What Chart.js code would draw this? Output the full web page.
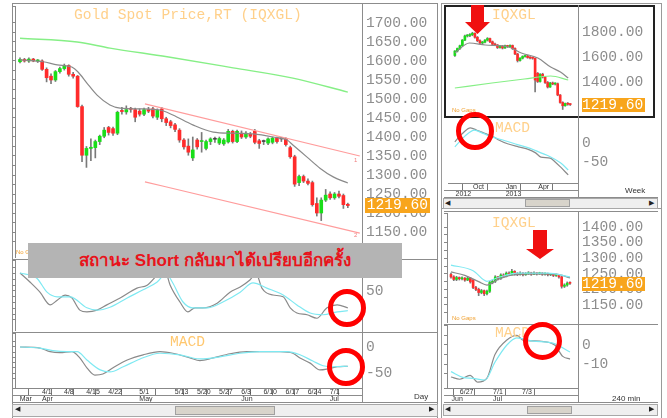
<!DOCTYPE html>
<html>
<head>
<meta charset="utf-8">
<script src="https://cdn.jsdelivr.net/npm/chart.js@4.4.0/dist/chart.umd.min.js"></script>
<style>
body { margin:0; width:667px; height:418px; background:#fff; position:relative; overflow:hidden; font-family:'Liberation Mono', monospace; }
canvas, .a { position:absolute; }
.ln { position:absolute; background:#8c8c8c; }
.ttl { position:absolute; color:#ffd08a; font-size:14.6px; line-height:17px; white-space:nowrap; }
.box { position:absolute; background:#f8a51c; color:#fff; font-size:14.6px; line-height:14px; text-align:right; padding-right:2px; box-sizing:border-box; }
.tiny { position:absolute; font-family:'Liberation Sans', sans-serif; font-size:7px; color:#333; white-space:nowrap; }
.ring { position:absolute; border:5px solid #f00; border-radius:50%; box-sizing:border-box; }
.sb { position:absolute; background:#efefef; border:1px solid #a8a8a8; box-sizing:border-box; }
.th { position:absolute; background:#d8d4cb; border:1px solid #a0a0a0; box-sizing:border-box; }
.ar { position:absolute; font-family:'DejaVu Sans'; font-size:7px; color:#222; }
</style>
</head>
<body>

<!-- window frames -->
<div class="a" style="left:12px;top:3px;width:426px;height:415px;border:1px solid #8c8c8c;border-bottom:none;box-sizing:border-box"></div>
<div class="a" style="left:441px;top:3px;width:221px;height:206px;border:1px solid #9a9a9a;box-sizing:border-box"></div>
<div class="a" style="left:441px;top:208px;width:221px;height:210px;border:1px solid #9a9a9a;border-bottom:none;box-sizing:border-box"></div>

<canvas id="dayPrice" width="425" height="252" style="left:12px;top:6px"></canvas>
<canvas id="dayStoch" width="425" height="71" style="left:12px;top:260px"></canvas>
<canvas id="dayMacd" width="425" height="71" style="left:12px;top:333px"></canvas>

<canvas id="wkPrice" width="210" height="111" style="left:445px;top:6px"></canvas>
<canvas id="wkMacd" width="210" height="81" style="left:445px;top:118px"></canvas>

<canvas id="hPrice" width="211" height="110" style="left:444px;top:213px"></canvas>
<canvas id="hMacd" width="211" height="79" style="left:444px;top:325px"></canvas>

<!-- separators -->
<div class="ln" style="left:12px;top:259px;width:425px;height:1px"></div>
<div class="ln" style="left:12px;top:332px;width:425px;height:1px"></div>
<div class="ln" style="left:12px;top:395px;width:350px;height:1px"></div>
<div class="ln" style="left:12px;top:402px;width:425px;height:1px"></div>
<div class="ln" style="left:362px;top:4px;width:1px;height:399px"></div>
<div class="a" style="left:444px;top:5px;width:211px;height:113px;border:2px solid #222;box-sizing:border-box"></div>
<div class="ln" style="left:578px;top:5px;width:1px;height:192px"></div>
<div class="ln" style="left:444px;top:190px;width:134px;height:1px"></div>
<div class="ln" style="left:444px;top:197px;width:214px;height:1px"></div>
<div class="ln" style="left:444px;top:211px;width:214px;height:1px"></div>
<div class="ln" style="left:444px;top:324px;width:214px;height:1px"></div>
<div class="ln" style="left:578px;top:211px;width:1px;height:192px"></div>
<div class="ln" style="left:444px;top:395px;width:134px;height:1px"></div>
<div class="ln" style="left:444px;top:402px;width:214px;height:1px"></div>

<!-- titles and labels -->
<div class="ttl" style="left:74px;top:7px">Gold Spot Price,RT (IQXGL)</div>
<div class="ttl" style="left:170px;top:334px;color:#ffc76e">MACD</div>
<div class="ttl" style="left:492px;top:7px">IQXGL</div>
<div class="ttl" style="left:495px;top:120px">MACD</div>
<div class="ttl" style="left:492px;top:215px">IQXGL</div>
<div class="ttl" style="left:495px;top:325px">MACD</div>
<div class="box" style="left:365px;top:198px;width:65px;height:15px">1219.60</div>
<div class="box" style="left:582px;top:98px;width:63px;height:14px">1219.60</div>
<div class="box" style="left:582px;top:277px;width:63px;height:14px">1219.60</div>
<div class="tiny" style="left:16px;top:249px;color:#f0a030;font-size:6px">No Gaps</div>
<div class="tiny" style="left:452px;top:107px;color:#f0a030;font-size:6px">No Gaps</div>
<div class="tiny" style="left:452px;top:315px;color:#f0a030;font-size:6px">No Gaps</div>
<div class="tiny" style="left:354px;top:157px;color:#f08080;font-size:6px">1</div>
<div class="tiny" style="left:354px;top:232px;color:#f08080;font-size:6px">2</div>
<div class="tiny" style="left:414px;top:392px;font-size:8px">Day</div>
<div class="tiny" style="left:625px;top:186px;font-size:8px">Week</div>
<div class="tiny" style="left:612px;top:394px;font-size:8px">240 min</div>

<!-- scrollbars -->
<div class="sb" style="left:12px;top:404px;width:426px;height:13px"></div>
<div class="th" style="left:175px;top:406px;width:100px;height:9px"></div>
<div class="ar" style="left:15px;top:405px">◀</div><div class="ar" style="left:429px;top:405px">▶</div>
<div class="sb" style="left:443px;top:198px;width:215px;height:11px"></div>
<div class="th" style="left:525px;top:199px;width:45px;height:8px"></div>
<div class="ar" style="left:445px;top:199px">◀</div><div class="ar" style="left:649px;top:199px">▶</div>
<div class="sb" style="left:443px;top:404px;width:215px;height:12px"></div>
<div class="th" style="left:527px;top:406px;width:45px;height:8px"></div>
<div class="ar" style="left:445px;top:405px">◀</div><div class="ar" style="left:649px;top:405px">▶</div>

<!-- annotations -->
<div class="a" style="left:28px;top:243px;width:374px;height:35px;background:#b4b4b4;color:#e8141c;font:bold 17px 'Liberation Sans', sans-serif;text-align:center;line-height:35px">สถานะ Short กลับมาได้เปรียบอีกครั้ง</div>
<div class="ring" style="left:328px;top:289px;width:38px;height:38px"></div>
<div class="ring" style="left:327px;top:348px;width:38px;height:38px"></div>
<div class="ring" style="left:456px;top:112px;width:38px;height:38px"></div>
<div class="ring" style="left:523px;top:322px;width:39px;height:38px"></div>
<svg class="a" style="left:0;top:0" width="667" height="418">
  <polygon points="471,5 484,5 484,22 490,22 477.5,34 465,22 471,22" fill="#f01010"/>
  <polygon points="533,230 547,230 547,249 554,249 540,259 526,249 533,249" fill="#f01010"/>
</svg>

<script>
// ---- daily, 25 Mar - 5 Jul 2013 ----
var dayOpen  = [1598,1604,1600,1605,1600,1600,1578,1560,1550,1572,1580,1588,1565,1560,1480,1352,1370,1372,1388,1402,
                1425,1422,1410,1470,1466,1474,1472,1468,1460,1472,1474,1452,1474,1448,1440,1432,1418,1392,1376,1345,
                1392,1388,1370,1388,1394,1384,1382,1387,1415,1388,1410,1400,1407,1415,1390,1388,1384,1386,1398,1395,
                1395,1372,1348,1280,1296,1284,1280,1225,1200,1234,1250,1240,1250,1246,1223]
var dayHigh  = [1608,1607,1608,1607,1604,1603,1582,1566,1575,1584,1592,1590,1570,1562,1484,1375,1395,1392,1405,1425,
                1428,1426,1468,1478,1482,1478,1476,1474,1476,1478,1478,1474,1478,1452,1444,1436,1422,1396,1395,1400,
                1396,1412,1392,1398,1400,1400,1396,1420,1418,1418,1416,1414,1412,1420,1394,1392,1398,1400,1400,1398,
                1398,1376,1352,1300,1300,1290,1284,1240,1240,1262,1256,1254,1258,1250,1226]
var dayLow   = [1595,1597,1596,1598,1596,1575,1545,1540,1546,1568,1576,1560,1555,1478,1335,1320,1338,1345,1380,1398,
                1405,1404,1406,1460,1460,1465,1440,1455,1456,1464,1450,1446,1440,1430,1424,1414,1386,1368,1352,1338,
                1368,1360,1366,1380,1386,1380,1378,1384,1384,1385,1396,1396,1398,1382,1370,1380,1380,1382,1384,1388,
                1376,1344,1270,1272,1280,1274,1218,1192,1180,1230,1236,1236,1240,1212,1214]
var dayClose = [1604,1600,1605,1600,1601,1578,1556,1550,1572,1580,1588,1565,1560,1480,1352,1370,1373,1388,1402,1418,
                1412,1410,1465,1467,1472,1473,1452,1460,1472,1468,1455,1470,1448,1438,1430,1420,1392,1374,1360,1366,
                1374,1390,1388,1395,1394,1396,1392,1415,1388,1415,1400,1410,1402,1386,1383,1388,1395,1397,1388,1395,
                1380,1348,1276,1296,1284,1278,1222,1200,1234,1247,1240,1250,1244,1222,1219.6]

var dayMaX    = [0,5.2,8.4,11.7,13.1,15.1,17.4,20.3,22.6,27.1,31.6,34.5,39,43.6,48.1,52.6,57.1,60.3,61.6,64.8,67.7,70.7,74]
var dayMa     = [1603,1598,1590,1584,1571,1542,1510,1484,1476,1474,1471,1458,1432,1413,1410,1408,1400,1392,1379,1347,1318,1295,1279]
var dayLongMaX = [0,12.9,20.3,33.2,48.1,61.6,74]
var dayLongMa  = [1660,1650,1634,1611,1582,1555,1518]
var chanX     = [28.2,76.7]
var chanUpper = [1487,1350]
var chanLower = [1282,1147]

var stochKX = [0,2.3,4.5,6.8,8.4,10.2,11.7,13.5,15.1,17.4,19.6,22.6,26.4,28.7,31,32.5,33.9,36.1,37.9,39.5,41.3,44.5,47.4,49.7,51.9,53.3,54.6,57.1,59.4,61,62.5,64.8,67,69.3,71.6,74]
var stochK  = [81,65,48,26,34,43,38,17,14,17,26,38,55,60,78,90,60,31,14,21,21,29,48,57,69,80,55,43,40,21,12,9,3,21,26,21]
var stochDX = [0,3.8,6.1,8.4,11.3,15.1,17.4,20.3,24.2,27.8,30.9,33,34.4,36.8,39,42.4,45.8,49.7,52.6,55.7,59.4,62.5,65.5,68.4,71.6,74]
var stochD  = [81,72,48,40,40,21,17,22,38,52,65,80,65,31,21,21,31,48,64,55,43,26,12,9,14,16]

var macdX   = [0,4.5,6.8,9,11.7,13.5,15.1,16.9,18.7,21,24.2,27.8,31.6,34.5,38.4,40.6,43.6,47.4,51.2,54.2,58.7,61.6,63.2,65.5,67.7,69.5,71.6,74]
var macd    = [0,-2,-9,-11,-9,-21,-40,-54,-52,-40,-25,-15,-9,-12,-21,-26,-21,-13,-9,-9,-9,-12,-21,-31,-44,-42,-38,-37]
var signalX = [0,4.5,7.4,10.6,12.9,15.1,18.1,20.3,23.3,27.1,31.6,36.1,40.6,45.1,49.7,54.2,60.3,63.2,66.1,68.4,70.7,74]
var signal  = [0,-2,-7,-9,-9,-25,-44,-48,-38,-23,-12,-15,-23,-19,-12,-9,-9,-15,-27,-36,-38,-37]

var dayTickPos    = [-0.5,4.5,9.5,14.5,19.5,26.5,34.5,39.5,44.5,49.5,54.5,59.5,64.5,69.5]
var dayTickTop    = ['','4/1','4/8','4/15','4/22','5/1','5/13','5/20','5/27','6/3','6/10','6/17','6/24','7/1']
var dayTickBottom = ['Mar','Apr','','','','May','','','','Jun','','','','Jul']
var dayPriceTicks = [1150,1200,1250,1300,1350,1400,1450,1500,1550,1600,1650,1700]

// ---- weekly, Aug 2012 - Jul 2013 ----
var wkOpen  = [1612,1648,1668,1690,1735,1768,1772,1778,1790,1758,1730,1712,1718,1735,1748,1722,1702,1696,1676,1686,
               1672,1690,1684,1692,1668,1624,1572,1590,1604,1608,1596,1592,1590,1470,1404,1462,1440,1396,1360,1392,
               1384,1386,1296,1236,1210,1228,1222]
var wkHigh  = [1652,1672,1695,1740,1775,1780,1788,1798,1794,1764,1738,1726,1740,1755,1752,1728,1712,1700,1692,1692,
               1696,1694,1698,1696,1674,1630,1596,1610,1616,1614,1604,1600,1594,1476,1468,1470,1446,1404,1398,1400,
               1394,1392,1300,1242,1232,1236,1226]
var wkLow   = [1605,1640,1660,1685,1730,1760,1762,1770,1750,1722,1705,1700,1712,1728,1715,1695,1690,1668,1670,1664,
               1668,1676,1678,1660,1618,1560,1566,1584,1598,1590,1584,1582,1320,1396,1398,1432,1388,1352,1356,1378,
               1376,1290,1230,1180,1206,1214,1212]
var wkClose = [1648,1668,1690,1735,1768,1772,1778,1790,1758,1730,1712,1718,1735,1748,1722,1702,1696,1676,1686,1672,
               1690,1684,1692,1668,1624,1572,1590,1604,1608,1596,1592,1590,1416,1404,1462,1440,1396,1360,1392,1384,
               1386,1296,1236,1210,1228,1222,1219.6]
var wkMaX     = [0,5.8,12.1,21.4,26.5,33.1,38.2,42.1,45.2]
var wkMa      = [1632,1712,1696,1680,1632,1592,1520,1480,1432]
var wkLongMaX = [0,14.8,27.7,38.2,45.2]
var wkLongMa  = [1352,1392,1424,1448,1416]
var wkMacdX   = [0,3,6.2,9,11,13.6,15.5,17.5,21,25.3,29,32.2,34.3,38,40,42.1,45.2]
var wkMacd    = [3,25,40,33,28,21,16,8,-2,-10,-16,-26,-37,-40,-50,-63,-84]
var wkSignalX = [0,4,7.8,11,14.8,20,25.3,30,34.3,38,42.1,45.2]
var wkSignal  = [-10,18,34,26,16,6,-5,-14,-26,-36,-52,-71]
var wkTickPos    = [-0.5,6.5,19.5,32.5]
var wkTickTop    = ['','Oct','Jan','Apr']
var wkTickBottom = ['2012','','2013','']
var wkPriceTicks = [1200,1400,1600,1800]

// ---- 240 min, 24 Jun - 5 Jul 2013 ----
var hOpen  = [1248,1240,1232,1238,1234,1236,1230,1236,1230,1206,1200,1190,1196,1186,1194,1222,1226,1240,1236,1246,
              1242,1252,1248,1258,1250,1248,1252,1247,1250,1253,1249,1252,1250,1252,1249,1250,1247,1248,1245,1246,
              1240,1210,1214,1222]
var hHigh  = [1252,1244,1242,1240,1240,1238,1240,1238,1232,1210,1204,1200,1198,1198,1226,1230,1244,1242,1250,1250,
              1256,1256,1264,1260,1254,1256,1254,1254,1257,1255,1256,1254,1255,1254,1253,1252,1251,1250,1249,1248,
              1242,1218,1224,1224]
var hLow   = [1236,1228,1228,1230,1230,1226,1228,1220,1202,1196,1180,1186,1180,1182,1190,1218,1222,1230,1232,1238,
              1240,1244,1246,1246,1244,1246,1243,1245,1248,1245,1247,1246,1248,1245,1246,1243,1244,1241,1242,1236,
              1204,1206,1210,1216]
var hClose = [1240,1232,1238,1234,1236,1230,1236,1224,1206,1200,1190,1196,1186,1194,1222,1226,1240,1236,1246,1242,
              1252,1248,1258,1250,1248,1252,1247,1250,1253,1249,1252,1250,1252,1249,1250,1247,1248,1245,1246,1240,
              1210,1214,1220,1219.6]
var hMaX     = [0,5,10,13,17,22,30,38,43]
var hMa      = [1256,1245,1225,1214,1232,1246,1250,1249,1237]
var hLongMaX = [0,8,13,17,24,35,43]
var hLongMa  = [1278,1260,1226,1238,1252,1252,1240]
var hMacdX   = [0,3.2,6.9,9.7,13,15.9,20.2,23.8,26,32,37.5,40.4,43]
var hMacd    = [-16.8,-18,-16,-19.5,-17.4,-5,2.6,5,2.6,2,0,-6,-7.4]
var hSignalX = [0,4.3,7.9,12.3,15.9,20.2,23.8,29.6,36.8,43]
var hSignal  = [-14,-17,-17.5,-18.4,-9,0,3.7,2,1,-3.7]
var hTickPos    = [-0.5,2.5,14.5,25]
var hTickTop    = ['','6/27','7/1','7/3']
var hTickBottom = ['Jun','','Jul','']
var hPriceTicks = [1150,1200,1250,1300,1350,1400]

var colUp = '#19de19', colDown = '#ff2b2b', colFlat = '#444'
var colGray = '#8a8a8a', colCyan = '#7ee9f2', colGreen = '#86ef86', colChan = '#ff9c9c'

function candles(o, h, l, c, w) {
    var wicks = [], bodies = [], cols = []
    for (var i = 0; i < c.length; i++) {
        wicks.push({x: i, y: [l[i], h[i]]})
        bodies.push({x: i, y: [o[i], c[i]]})
        cols.push(c[i] > o[i] ? colUp : (c[i] < o[i] ? colDown : colFlat))
    }
    return [
        {type: 'bar', data: wicks, backgroundColor: '#7a7a7a', barThickness: 1, grouped: false, order: 3},
        {type: 'bar', data: bodies, backgroundColor: cols, barThickness: w, grouped: false, minBarLength: 1, order: 2}
    ]
}

function line(xs, ys, color, width) {
    return {
        type: 'line',
        data: xs.map(function(x, k){ return {x: x, y: ys[k]} }),
        borderColor: color,
        borderWidth: width || 1.2,
        pointRadius: 0,
        cubicInterpolationMode: 'monotone',
        order: 1
    }
}

// scales must not steal room from the plot area for their own labels
function noPad(s) {
    s.paddingTop = 0; s.paddingBottom = 0; s.paddingLeft = 0; s.paddingRight = 0
}

function panel(id, o) {
    var hasX = !!o.xTicks
    return new Chart(document.getElementById(id), {
        type: 'bar',
        data: {datasets: o.datasets},
        options: {
            responsive: false,
            animation: false,
            events: [],
            layout: {autoPadding: false, padding: 0},
            plugins: {legend: {display: false}, tooltip: {enabled: false}},
            scales: {
                x: {
                    type: 'linear', min: o.xMin, max: o.xMax, offset: false,
                    display: hasX,
                    afterBuildTicks: function(s){ if (hasX) s.ticks = o.xTicks.map(function(v){ return {value: v} }) },
                    afterFit: function(s){ s.height = hasX ? 16 : 0; noPad(s) },
                    ticks: {
                        autoSkip: false, maxRotation: 0, align: 'start', padding: -7,
                        font: {family: 'Liberation Sans', size: 7, lineHeight: 1.05},
                        color: '#333',
                        callback: function(v, i){ return hasX ? [' ' + o.xTop[i], ' ' + o.xBottom[i]] : '' }
                    },
                    grid: {drawOnChartArea: false, tickLength: 7, color: '#777'},
                    border: {display: true, color: '#888'}
                },
                y: {
                    position: 'right', min: o.yMin, max: o.yMax,
                    afterFit: function(s){ s.width = o.axisW; noPad(s) },
                    afterBuildTicks: function(s){ s.ticks = o.yTicks.map(function(v){ return {value: v} }) },
                    ticks: {
                        autoSkip: false, padding: 4, color: '#8d8d8d',
                        font: {family: 'Liberation Mono', size: 14.6},
                        callback: o.yFmt
                    },
                    grid: {drawOnChartArea: false, drawTicks: false},
                    border: {display: true, color: '#999'}
                },
                ruler: {
                    position: 'left', min: o.yMin, max: o.yMax, display: o.ruler !== false,
                    afterFit: function(s){ s.width = 3; noPad(s) },
                    ticks: {display: false, stepSize: o.rulerStep, autoSkip: false, maxTicksLimit: 200},
                    grid: {drawOnChartArea: false, tickLength: 3, color: '#888'},
                    border: {display: true, color: '#888'}
                }
            }
        }
    })
}

var fmt2 = function(v){ return v.toFixed(2) }
var fmt0 = function(v){ return String(v) }

panel('dayPrice', {
    xMin: -1.13, xMax: 77.2, yMin: 1081.6, yMax: 1744.7, yTicks: dayPriceTicks, yFmt: fmt2, axisW: 75, rulerStep: 25,
    datasets: candles(dayOpen, dayHigh, dayLow, dayClose, 3).concat([
        line(dayLongMaX, dayLongMa, colGreen, 1.4),
        line(dayMaX, dayMa, colGray, 1.2),
        line(chanX, chanUpper, colChan, 1.2),
        line(chanX, chanLower, colChan, 1.2)
    ])
})
panel('dayStoch', {
    xMin: -1.13, xMax: 77.2, yMin: -19, yMax: 103.4, yTicks: [50], yFmt: fmt0, axisW: 75, rulerStep: 10,
    datasets: [line(stochDX, stochD, colCyan), line(stochKX, stochK, colGray)]
})
panel('dayMacd', {
    xMin: -1.13, xMax: 77.2, yMin: -78.8, yMax: 26.9, yTicks: [-50, 0], yFmt: fmt0, axisW: 75, rulerStep: 10,
    xTicks: dayTickPos, xTop: dayTickTop, xBottom: dayTickBottom,
    datasets: [line(signalX, signal, colCyan), line(macdX, macd, colGray)]
})

panel('wkPrice', {
    xMin: -2.73, xMax: 49.1, yMin: 1120, yMax: 2008, yTicks: wkPriceTicks, yFmt: fmt2, axisW: 77, ruler: false, rulerStep: 100,
    datasets: candles(wkOpen, wkHigh, wkLow, wkClose, 2).concat([
        line(wkLongMaX, wkLongMa, colGreen, 1.2),
        line(wkMaX, wkMa, colGray, 1.2)
    ])
})
panel('wkMacd', {
    xMin: -2.73, xMax: 49.1, yMin: -105.3, yMax: 65.8, yTicks: [-50, 0], yFmt: fmt0, axisW: 77, ruler: false, rulerStep: 25,
    xTicks: wkTickPos, xTop: wkTickTop, xBottom: wkTickBottom,
    datasets: [line(wkSignalX, wkSignal, colCyan), line(wkMacdX, wkMacd, colGray)]
})

panel('hPrice', {
    xMin: -1.44, xMax: 45.9, yMin: 1092.3, yMax: 1444.9, yTicks: hPriceTicks, yFmt: fmt2, axisW: 77, rulerStep: 25,
    datasets: candles(hOpen, hHigh, hLow, hClose, 2).concat([
        line(hLongMaX, hLongMa, colCyan, 1.2),
        line(hMaX, hMa, colGray, 1.2)
    ])
})
panel('hMacd', {
    xMin: -1.44, xMax: 45.9, yMin: -22.6, yMax: 10.5, yTicks: [-10, 0], yFmt: fmt0, axisW: 77, rulerStep: 5,
    xTicks: hTickPos, xTop: hTickTop, xBottom: hTickBottom,
    datasets: [line(hSignalX, hSignal, colCyan), line(hMacdX, hMacd, colGray)]
})
</script>
</body>
</html>
